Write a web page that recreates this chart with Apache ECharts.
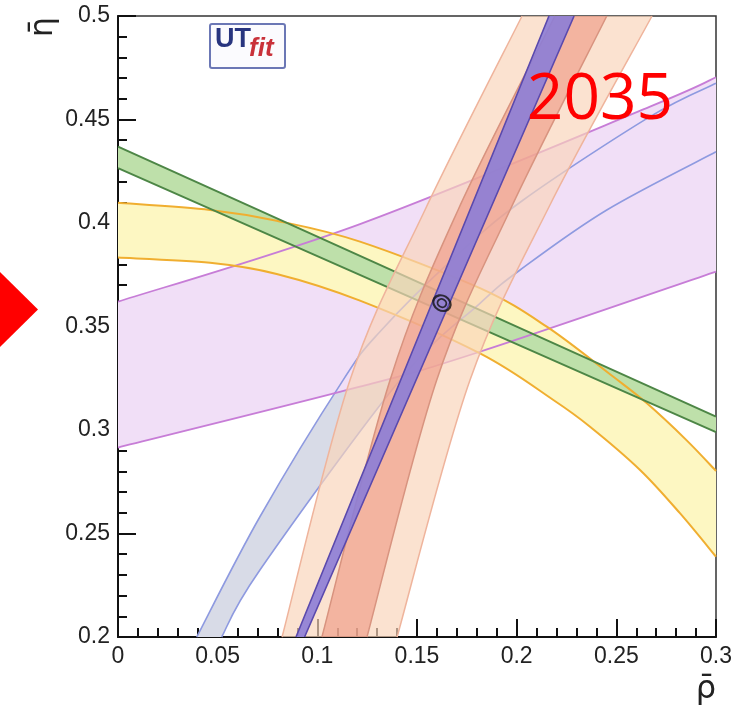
<!DOCTYPE html>
<html>
<head>
<meta charset="utf-8">
<script src="https://cdn.jsdelivr.net/npm/echarts@6/dist/echarts.min.js"></script>
<style>
  html, body { margin: 0; padding: 0; background: #ffffff; }
  #chart { width: 746px; height: 713px; }
</style>
</head>
<body>
<div id="chart"></div>
<script>
// Axis ranges and ticks (rho-bar horizontal, eta-bar vertical)
const rhoTicks = ['0', '0.05', '0.1', '0.15', '0.2', '0.25', '0.3'];
const etaTicks = ['0.2', '0.25', '0.3', '0.35', '0.4', '0.45', '0.5'];

// Constraint bands in the (rho, eta) plane, each given by its two edges
const purpleUpper = [[0, 0.362], [0.1214, 0.3995], [0.2669, 0.4562], [0.3, 0.4704]];
const purpleLower = [[0, 0.2915], [0.1214, 0.3209], [0.1816, 0.3378], [0.3, 0.3765]];

const blueLeft = [[0.0395, 0.2], [0.0712, 0.2581], [0.113, 0.3242], [0.1314, 0.3475],
                  [0.1674, 0.3821], [0.2033, 0.4111], [0.2669, 0.4514], [0.3, 0.4675]];
const blueRight = [[0.052, 0.2], [0.0712, 0.2324], [0.1415, 0.3242], [0.1816, 0.3612],
                   [0.2017, 0.3773], [0.2452, 0.4063], [0.3, 0.4344]];

const yellowUpper = [[0, 0.4098], [0.0462, 0.4063], [0.0796, 0.4011], [0.1214, 0.391],
                     [0.1816, 0.3685], [0.2151, 0.3499], [0.2485, 0.3257], [0.2652, 0.313],
                     [0.2853, 0.295], [0.3, 0.2802]];
const yellowLower = [[0, 0.3833], [0.0462, 0.3808], [0.0796, 0.3754], [0.1214, 0.3625],
                     [0.1816, 0.337], [0.2184, 0.3145], [0.2368, 0.3016], [0.2619, 0.2807],
                     [0.2819, 0.2598], [0.3, 0.2388]];

const greenUpper = [[0, 0.4369], [0.3, 0.3065]];
const greenLower = [[0, 0.4265], [0.3, 0.299]];

const peachLeft = [[0.0823, 0.2], [0.1164, 0.3242], [0.154, 0.4063], [0.2027, 0.5]];
const peachRight = [[0.14, 0.2], [0.1766, 0.3242], [0.2167, 0.4087], [0.2679, 0.5]];
const salmonLeft = [[0.1023, 0.2], [0.1365, 0.3242], [0.1706, 0.4063], [0.2192, 0.5]];
const salmonRight = [[0.1249, 0.2], [0.1599, 0.3242], [0.1967, 0.4063], [0.2452, 0.5]];

const gammaLeft = [[0.0893, 0.2], [0.2162, 0.5]];
const gammaRight = [[0.0936, 0.2], [0.2288, 0.5]];

// Combined fit: probability contours around the best point
const fitCenter = [[0.1625, 0.3613]];

// ---- drawing helpers -------------------------------------------------------
// Cubic Bezier segments of a Catmull-Rom spline passing through pixel points
function splineSegs(pts) {
  let d = '';
  for (let i = 0; i < pts.length - 1; i++) {
    const p0 = pts[Math.max(i - 1, 0)], p1 = pts[i], p2 = pts[i + 1];
    const p3 = pts[Math.min(i + 2, pts.length - 1)];
    const c1x = p1[0] + (p2[0] - p0[0]) / 6, c1y = p1[1] + (p2[1] - p0[1]) / 6;
    const c2x = p2[0] - (p3[0] - p1[0]) / 6, c2y = p2[1] - (p3[1] - p1[1]) / 6;
    d += ' C' + c1x + ',' + c1y + ' ' + c2x + ',' + c2y + ' ' + p2[0] + ',' + p2[1];
  }
  return d;
}
function edgePath(pts) {
  return 'M' + pts[0][0] + ',' + pts[0][1] + splineSegs(pts);
}
function bandPath(a, b) {
  const rb = b.slice().reverse();
  return edgePath(a) + ' L' + rb[0][0] + ',' + rb[0][1] + splineSegs(rb) + ' Z';
}

function bandSeries(edgeA, edgeB, fill, stroke, lineWidth) {
  return {
    type: 'custom',
    coordinateSystem: 'cartesian2d',
    silent: true,
    data: [[edgeA[0][0], edgeA[0][1]]],
    renderItem: function (params, api) {
      const a = edgeA.map(p => api.coord(p));
      const b = edgeB.map(p => api.coord(p));
      const children = [];
      if (fill) {
        children.push({ type: 'path', shape: { pathData: bandPath(a, b) },
                        style: { fill: fill, stroke: null } });
      }
      if (stroke) {
        children.push({ type: 'path', shape: { pathData: edgePath(a) },
                        style: { fill: null, stroke: stroke, lineWidth: lineWidth } });
        children.push({ type: 'path', shape: { pathData: edgePath(b) },
                        style: { fill: null, stroke: stroke, lineWidth: lineWidth } });
      }
      return { type: 'group', children: children };
    }
  };
}

const chart = echarts.init(document.getElementById('chart'), null, { renderer: 'canvas' });

const axisCommon = {
  type: 'value',
  interval: 0.05,
  axisLine: { show: true, onZero: false, lineStyle: { color: '#111', width: 2 } },
  axisTick: { show: true, inside: true, length: 18, lineStyle: { color: '#111', width: 2 } },
  minorTick: { show: true, splitNumber: 5, length: 9, lineStyle: { color: '#111', width: 2 } },
  splitLine: { show: false },
  axisLabel: { color: '#222', fontSize: 23, fontFamily: 'Liberation Sans', margin: 8,
               showMinLabel: true, showMaxLabel: true }
};

const option = {
  animation: false,
  backgroundColor: '#ffffff',
  grid: { left: 118, top: 16, right: 30, bottom: 76, show: true,
          borderColor: '#333', borderWidth: 1.5, backgroundColor: 'transparent' },
  xAxis: Object.assign({}, axisCommon, {
    min: Number(rhoTicks[0]), max: Number(rhoTicks[rhoTicks.length - 1]),
    axisLabel: Object.assign({}, axisCommon.axisLabel, {
      formatter: v => rhoTicks.find(t => Math.abs(Number(t) - v) < 1e-9) || '' })
  }),
  yAxis: Object.assign({}, axisCommon, {
    min: Number(etaTicks[0]), max: Number(etaTicks[etaTicks.length - 1]),
    name: '\u03b7\u0304',
    nameLocation: 'end',
    nameRotate: 90,
    nameGap: -11,
    nameTextStyle: { fontFamily: 'DejaVu Sans', fontSize: 32, color: '#222',
                     align: 'center', verticalAlign: 'bottom', padding: [0, 0, 58, 0] },
    axisLabel: Object.assign({}, axisCommon.axisLabel, {
      formatter: v => etaTicks.find(t => Math.abs(Number(t) - v) < 1e-9) || '' })
  }),
  series: [
    bandSeries(blueLeft, blueRight, '#d8dbe7', null),
    bandSeries(purpleUpper, purpleLower, '#f1dff7', null),
    bandSeries(yellowUpper, yellowLower, '#fdf7c2', null),
    bandSeries(greenUpper, greenLower, '#bee0aa', null),
    bandSeries(blueLeft, blueRight, null, '#8e9ae0', 1.6),
    bandSeries(purpleUpper, purpleLower, null, '#c77dd7', 1.8),
    bandSeries(yellowUpper, yellowLower, null, '#f0ae30', 2),
    bandSeries(greenUpper, greenLower, null, '#4d8646', 2),
    bandSeries(peachLeft, peachRight, 'rgba(249,212,186,0.68)', '#efb49c', 1.5),
    bandSeries(salmonLeft, salmonRight, 'rgba(238,150,128,0.6)', '#d8937f', 1.5),
    bandSeries(gammaLeft, gammaRight, 'rgba(140,125,214,0.9)', '#5a49ad', 1.6),
    {
      type: 'scatter',
      silent: true,
      data: fitCenter,
      symbol: 'circle',
      symbolSize: [18, 15],
      symbolRotate: -30,
      itemStyle: { color: 'rgba(0,0,0,0)', borderColor: '#111', borderWidth: 2.2 },
      z: 5
    },
    {
      type: 'scatter',
      silent: true,
      data: fitCenter,
      symbol: 'circle',
      symbolSize: [9, 8],
      symbolRotate: -30,
      itemStyle: { color: 'rgba(0,0,0,0)', borderColor: '#111', borderWidth: 1.8 },
      z: 5
    }
  ],
  graphic: [
    // arrow tip on the left margin
    { type: 'polygon', shape: { points: [[0, 272], [38, 309.5], [0, 347]] },
      style: { fill: '#ff0000' } },
    // projection year
    { type: 'text', x: 600, y: 101, z: 10,
      style: { text: '2035', fill: '#ff0000', font: '64px "Open Sans"',
               align: 'center', verticalAlign: 'middle' } },
    // UTfit logo
    { type: 'rect', shape: { x: 210, y: 24, width: 75, height: 44, r: 2 },
      style: { fill: '#fbfbfe', stroke: '#6b77b5', lineWidth: 2 }, z: 10 },
    { type: 'text', x: 215, y: 40, z: 11,
      style: { text: 'UT', fill: '#28357f', font: 'bold 27px "Liberation Sans"',
               align: 'left', verticalAlign: 'middle' } },
    { type: 'text', x: 249, y: 49, z: 11,
      style: { text: 'fit', fill: '#c9313a', font: 'italic bold 26px "Liberation Sans"',
               align: 'left', verticalAlign: 'middle' } },
    // horizontal axis title
    { type: 'text', x: 706, y: 690, z: 10,
      style: { text: '\u03c1\u0304', fill: '#222', font: '32px "DejaVu Sans"',
               align: 'center', verticalAlign: 'middle' } }
  ]
};

chart.setOption(option);
</script>
</body>
</html>
